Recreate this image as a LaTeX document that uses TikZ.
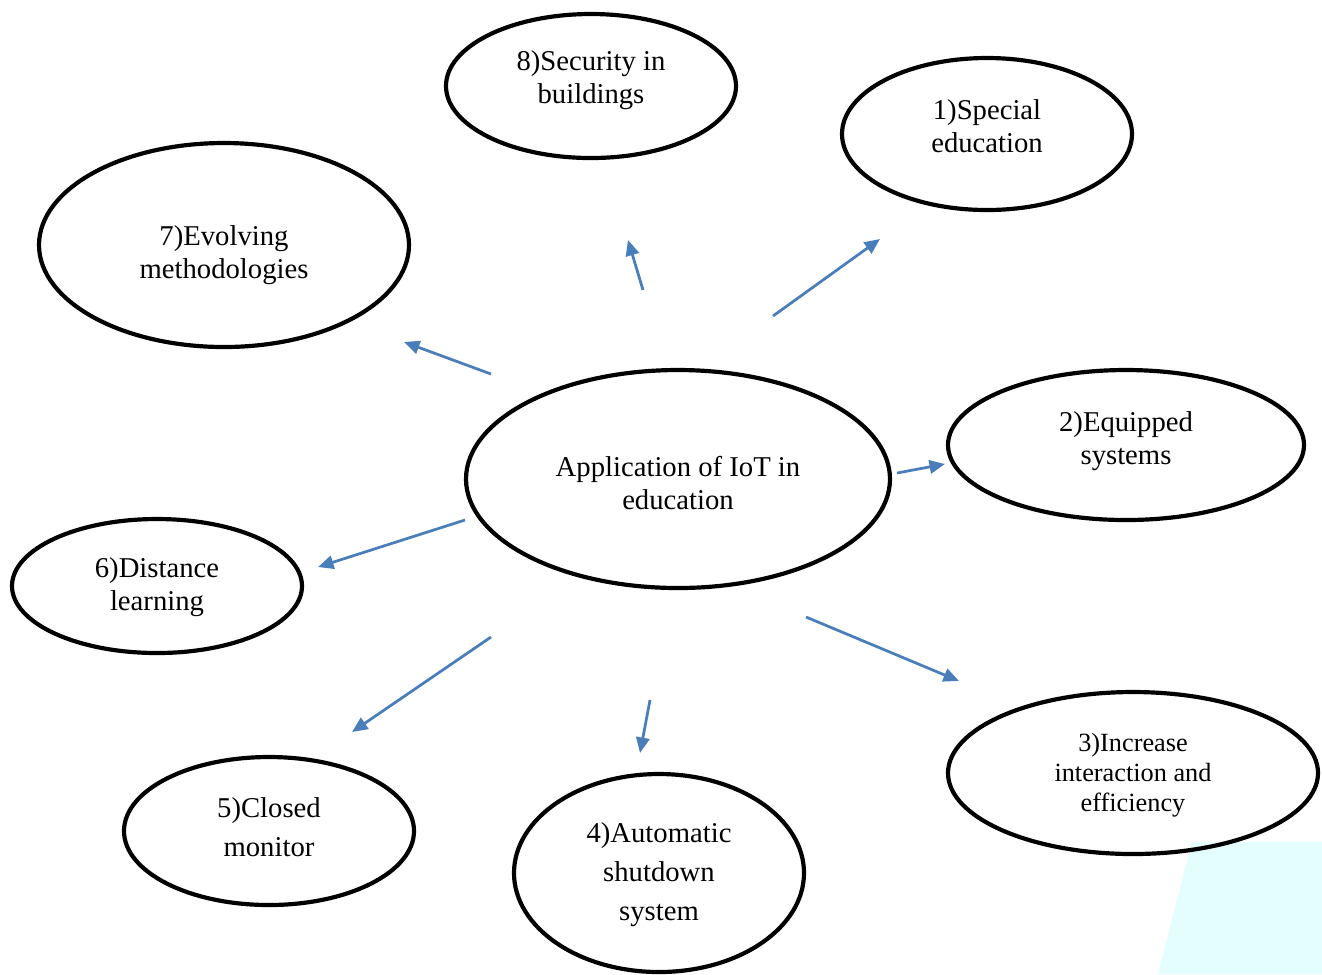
\documentclass[tikz,border=0pt]{standalone}
\usepackage{fontspec}
\setmainfont{Liberation Serif}
\usetikzlibrary{shapes.geometric,arrows.meta}
\definecolor{arrowblue}{HTML}{4A7EBB}
\definecolor{wmcyan}{RGB}{228,253,253}
\tikzset{
  bubble/.style={draw=black, line width=1.75pt, ellipse, inner sep=0pt},
  txt/.style={inner sep=0pt, align=center, font=\fontsize{12}{13.8}\selectfont},
  arr/.style={draw=arrowblue, line width=1.15pt, -{Triangle[length=6.5pt,width=5.6pt]}},
}
\begin{document}
\begin{tikzpicture}[x=0.4184pt, y=-0.4184pt]
\useasboundingbox (0,0) rectangle (1322,974);
\fill[wmcyan] (1192,842) -- (1322,842) -- (1322,974) -- (1158,974) -- cycle;

\node[bubble, minimum width={424*0.4184pt}, minimum height={218*0.4184pt}] (c) at (678,479) {};
\node[txt] (ct) at (678,483) {Application of IoT in\\education};
\node[bubble, minimum width={290*0.4184pt}, minimum height={144*0.4184pt}] (n8) at (591,86) {};
\node[txt] (n8t) at (591,80) {8)Security in\\buildings};
\node[bubble, minimum width={290*0.4184pt}, minimum height={152*0.4184pt}] (n1) at (987,134) {};
\node[txt] (n1t) at (987,126) {1)Special\\education};
\node[bubble, minimum width={370*0.4184pt}, minimum height={204*0.4184pt}] (n7) at (224,245) {};
\node[txt] (n7t) at (224,255) {7)Evolving\\methodologies};
\node[bubble, minimum width={356*0.4184pt}, minimum height={150*0.4184pt}] (n2) at (1126,445) {};
\node[txt] (n2t) at (1126,441) {2)Equipped\\systems};
\node[bubble, minimum width={290*0.4184pt}, minimum height={134*0.4184pt}] (n6) at (157,586) {};
\node[txt] (n6t) at (157,587) {6)Distance\\learning};
\node[bubble, minimum width={370*0.4184pt}, minimum height={162*0.4184pt}] (n3) at (1133,773) {};
\node[txt, font=\fontsize{11}{12.6}\selectfont] (n3t) at (1133,775) {3)Increase\\interaction and\\efficiency};
\node[bubble, minimum width={290*0.4184pt}, minimum height={148*0.4184pt}] (n5) at (269,831) {};
\node[txt, font=\fontsize{12}{16.3}\selectfont] (n5t) at (269,827) {5)Closed\\monitor};
\node[bubble, minimum width={290*0.4184pt}, minimum height={198*0.4184pt}] (n4) at (659,873) {};
\node[txt, font=\fontsize{12}{16.3}\selectfont] (n4t) at (659,875) {4)Automatic\\shutdown\\system};

\coordinate (s8) at (643,290); \coordinate (e8) at (628,240);
\coordinate (s1) at (773,316); \coordinate (e1) at (880,239);
\coordinate (s7) at (491,374); \coordinate (e7) at (404,342);
\coordinate (s2) at (897,473); \coordinate (e2) at (945,464);
\coordinate (s6) at (465,520); \coordinate (e6) at (318,567);
\coordinate (s5) at (491,637); \coordinate (e5) at (352,732);
\coordinate (s4) at (650,700); \coordinate (e4) at (640,753);
\coordinate (s3) at (806,617); \coordinate (e3) at (959,681);

\foreach \i in {8,1,7,2,6,5,4,3} { \draw[arr] (s\i) -- (e\i); }
\end{tikzpicture}
\end{document}
